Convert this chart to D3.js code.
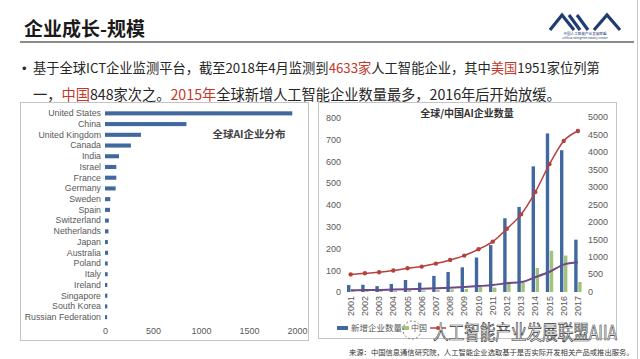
<!DOCTYPE html>
<html>
<head>
<meta charset="utf-8">
<script src="https://cdn.jsdelivr.net/npm/d3@7"></script>
<style>
  body { margin: 0; background: #fff; }
  svg { display: block; font-family: "Noto Sans CJK SC", "Noto Sans", sans-serif; }
  .tick text { font-family: "Liberation Sans", "DejaVu Sans", sans-serif; fill: #595959; }
</style>
</head>
<body>
<div id="container"></div>
<script>
/* CONSTANTS AND GLOBALS */
const width = 640, height = 359

/* DATA */
const countries = ["United States", "China", "United Kingdom", "Canada", "India", "Israel", "France", "Germany",
  "Sweden", "Spain", "Switzerland", "Netherlands", "Japan", "Australia", "Poland", "Italy", "Ireland",
  "Singapore", "South Korea", "Russian Federation"]
const countryCounts = [1951, 848, 375, 270, 146, 118, 118, 111, 55, 52, 40, 36, 30, 32, 28, 28, 24, 25, 24, 22]
const countryTicks = [0, 500, 1000, 1500, 2000]

const years = ["2001", "2002", "2003", "2004", "2005", "2006", "2007", "2008", "2009",
  "2010", "2011", "2012", "2013", "2014", "2015", "2016", "2017"]
const globalNew = [32, 33, 27, 37, 55, 43, 74, 92, 113, 158, 215, 338, 390, 576, 727, 650, 240]
const chinaNew = [6, 5, 4, 6, 8, 7, 10, 12, 14, 24, 20, 47, 43, 110, 189, 167, 46]
const globalTotal = [490, 523, 551, 600, 666, 714, 800, 905, 1029, 1210, 1429, 1800, 2210, 2850, 3650, 4314, 4600]
const chinaTotal = [35, 40, 45, 55, 65, 80, 95, 110, 130, 155, 185, 237, 270, 410, 565, 770, 835]
const leftTicks = [0, 100, 200, 300, 400, 500, 600, 700, 800]
const rightTicks = [0, 500, 1000, 1500, 2000, 2500, 3000, 3500, 4000, 4500, 5000]

const blue = "#41699f", green = "#a6c27a", red = "#b5413d", purple = "#6a4a8c"
const fmt = d3.format("d")

// svg
const svg = d3.select("#container")
  .append("svg")
  .attr("width", width)
  .attr("height", height)

// shrink a text's font size until it is exactly w wide
function fitWidth(t, w) {
  const fs = +t.attr("font-size")
  const len = t.node().getComputedTextLength()
  t.attr("font-size", (fs * w / len).toFixed(2))
}

/* HEADER */
const title = svg.append("text")
  .attr("x", 24).attr("y", 36)
  .attr("font-size", 20).attr("font-weight", "bold").attr("fill", "#1a1a1a")
  .text("企业成长-规模")
fitWidth(title, 121)

svg.append("line")
  .attr("x1", 20).attr("x2", 634).attr("y1", 42).attr("y2", 42)
  .attr("stroke", "#8c8c8c").attr("stroke-width", 2)

svg.append("line")
  .attr("x1", 637.5).attr("x2", 637.5).attr("y1", 0).attr("y2", height)
  .attr("stroke", "#c8c8c8").attr("stroke-width", 1)

// logo
const logo = svg.append("g").attr("fill", "none").attr("stroke", "#1f3d70").attr("stroke-width", 3.2)
logo.append("path").attr("d", "M550,30 L562,15 L574,30")
logo.append("path").attr("d", "M569,15 L580,30")
logo.append("path").attr("d", "M577,15 L588,30")
logo.append("path").attr("d", "M594,30 L607,15 L620,30")
svg.append("text").attr("x", 585).attr("y", 35).attr("text-anchor", "middle")
  .attr("font-size", 3.6).attr("fill", "#1f3d70").text("中国人工智能产业发展联盟")
svg.append("text").attr("x", 585).attr("y", 38.5).attr("text-anchor", "middle")
  .attr("font-size", 2.6).attr("fill", "#1f3d70").text("Artificial Intelligence Industry Alliance")

/* BODY TEXT */
const hl = "#c0392b", ink = "#262626"
svg.append("text").attr("x", 22).attr("y", 73)
  .attr("font-family", "Liberation Sans, sans-serif")
  .attr("font-size", 13).attr("fill", ink).text("•")

const line1 = [["基于全球ICT企业监测平台，截至2018年4月监测到", ink], ["4633家", hl], ["人工智能企业，其中", ink],
  ["美国", hl], ["1951家位列第", ink]]
const line2 = [["一，", ink], ["中国", hl], ["848家次之。", ink], ["2015年", hl], ["全球新增人工智能企业数量最多，2016年后开始放缓。", ink]]

function para(parts, y, len) {
  const t = svg.append("text").attr("x", 33).attr("y", y).attr("font-size", 13.5)
  t.selectAll("tspan").data(parts).join("tspan")
    .attr("fill", d => d[1]).text(d => d[0])
  fitWidth(t, len)
}
para(line1, 73, 567)
para(line2, 100, 528)

/* LEFT CHART: 全球AI企业分布 */
svg.append("rect")
  .attr("x", 20.5).attr("y", 102.5).attr("width", 288).attr("height", 238)
  .attr("fill", "none").attr("stroke", "#c4c4c4")

const xCountry = d3.scaleLinear().domain([0, 2000]).range([105, 297])
const yCountry = d3.scaleBand().domain(countries).range([108, 322.5]).paddingInner(0.62).paddingOuter(0.31)

svg.selectAll(".cbar")
  .data(countries)
  .join("rect")
  .attr("class", "cbar")
  .attr("x", xCountry(0))
  .attr("y", d => yCountry(d))
  .attr("width", (d, i) => xCountry(countryCounts[i]) - xCountry(0))
  .attr("height", yCountry.bandwidth())
  .attr("fill", blue)

svg.append("g")
  .attr("transform", `translate(${xCountry(0) - 4},0)`)
  .call(d3.axisLeft(yCountry).tickSize(0).tickPadding(0))
  .call(g => g.select(".domain").remove())
  .selectAll("text").attr("font-size", 8.8)

svg.append("g")
  .attr("transform", "translate(0,328)")
  .call(d3.axisBottom(xCountry).tickValues(countryTicks).tickFormat(fmt).tickSize(0).tickPadding(0))
  .call(g => g.select(".domain").remove())
  .selectAll("text").attr("font-size", 9)

svg.append("text")
  .attr("x", 249).attr("y", 138).attr("text-anchor", "middle")
  .attr("font-size", 10.5).attr("font-weight", "bold").attr("fill", "#404040")
  .text("全球AI企业分布")

/* RIGHT CHART: 全球/中国AI企业数量 */
svg.append("rect")
  .attr("x", 318.5).attr("y", 102.5).attr("width", 298).attr("height", 236)
  .attr("fill", "none").attr("stroke", "#c4c4c4")

const xYear = d3.scaleBand().domain(years).range([343.6, 585])
const yLeft = d3.scaleLinear().domain([0, 800]).range([292, 117.5])
const yRight = d3.scaleLinear().domain([0, 5000]).range([291.5, 117])
const cx = d => xYear(d) + xYear.bandwidth() / 2

svg.selectAll(".gbar")
  .data(years)
  .join("rect")
  .attr("class", "gbar")
  .attr("x", d => cx(d) - 3.7)
  .attr("y", (d, i) => yLeft(globalNew[i]))
  .attr("width", 3.4)
  .attr("height", (d, i) => yLeft(0) - yLeft(globalNew[i]))
  .attr("fill", blue)

svg.selectAll(".chbar")
  .data(years)
  .join("rect")
  .attr("class", "chbar")
  .attr("x", d => cx(d) + 0.3)
  .attr("y", (d, i) => yLeft(chinaNew[i]))
  .attr("width", 3.4)
  .attr("height", (d, i) => yLeft(0) - yLeft(chinaNew[i]))
  .attr("fill", green)

const lineGen = vals => d3.line()
  .x((d, i) => cx(years[i]))
  .y(d => yRight(d))
  .curve(d3.curveMonotoneX)(vals)

svg.append("path")
  .attr("d", lineGen(chinaTotal))
  .attr("fill", "none").attr("stroke", purple).attr("stroke-width", 2)

svg.append("path")
  .attr("d", lineGen(globalTotal))
  .attr("fill", "none").attr("stroke", red).attr("stroke-width", 1.5)

svg.selectAll(".dot")
  .data(globalTotal)
  .join("circle")
  .attr("class", "dot")
  .attr("cx", (d, i) => cx(years[i]))
  .attr("cy", d => yRight(d))
  .attr("r", 2.2)
  .attr("fill", red)

svg.append("g")
  .attr("transform", "translate(341,0)")
  .call(d3.axisLeft(yLeft).tickValues(leftTicks).tickFormat(fmt).tickSize(0).tickPadding(0))
  .call(g => g.select(".domain").remove())
  .selectAll("text").attr("font-size", 9)

svg.append("g")
  .attr("transform", "translate(588,0)")
  .call(d3.axisRight(yRight).tickValues(rightTicks).tickFormat(fmt).tickSize(0).tickPadding(0))
  .call(g => g.select(".domain").remove())
  .selectAll("text").attr("font-size", 9)

svg.append("g")
  .attr("transform", "translate(0,296)")
  .call(d3.axisBottom(xYear).tickSize(0).tickPadding(0))
  .call(g => g.select(".domain").remove())
  .selectAll("text")
  .attr("font-size", 9)
  .attr("transform", "rotate(-90)")
  .attr("text-anchor", "end")
  .attr("dy", "0.35em")
  .attr("y", 0).attr("x", 0)

svg.append("text")
  .attr("x", 467).attr("y", 117).attr("text-anchor", "middle")
  .attr("font-size", 10).attr("font-weight", "bold").attr("fill", "#333")
  .text("全球/中国AI企业数量")

// legend
const legend = svg.append("g").attr("font-size", 8.5).attr("fill", "#595959")
legend.append("rect").attr("x", 337).attr("y", 326).attr("width", 11).attr("height", 4).attr("fill", blue)
legend.append("text").attr("x", 351).attr("y", 331).text("新增企业数量")
legend.append("rect").attr("x", 402).attr("y", 326).attr("width", 7).attr("height", 4).attr("fill", green)
legend.append("text").attr("x", 411).attr("y", 331).attr("font-size", 8).text("中国")
legend.append("line").attr("x1", 430).attr("x2", 446).attr("y1", 328).attr("y2", 328).attr("stroke", red).attr("stroke-width", 1.5)
legend.append("circle").attr("cx", 438).attr("cy", 328).attr("r", 2).attr("fill", red)

// watermark
svg.append("circle")
  .attr("cx", 412).attr("cy", 330).attr("r", 9)
  .attr("fill", "none").attr("stroke", "#777").attr("stroke-dasharray", "2,2")
const mark = svg.append("text")
  .attr("x", 0).attr("y", 0)
  .attr("font-size", 20).attr("fill", "#fff").attr("stroke", "#333").attr("stroke-width", 0.7)
  .text("人工智能产业发展联盟AIIA")
const markLen = mark.node().getComputedTextLength()
mark.attr("transform", `translate(433,340) scale(${(184 / markLen).toFixed(3)},1)`)

// source note
const note = svg.append("text")
  .attr("x", 349).attr("y", 354.5)
  .attr("font-size", 7.5).attr("fill", "#333")
  .text("来源：中国信息通信研究院，人工智能企业选取基于是否实际开发相关产品或推出服务。")
fitWidth(note, 285)
</script>
</body>
</html>
